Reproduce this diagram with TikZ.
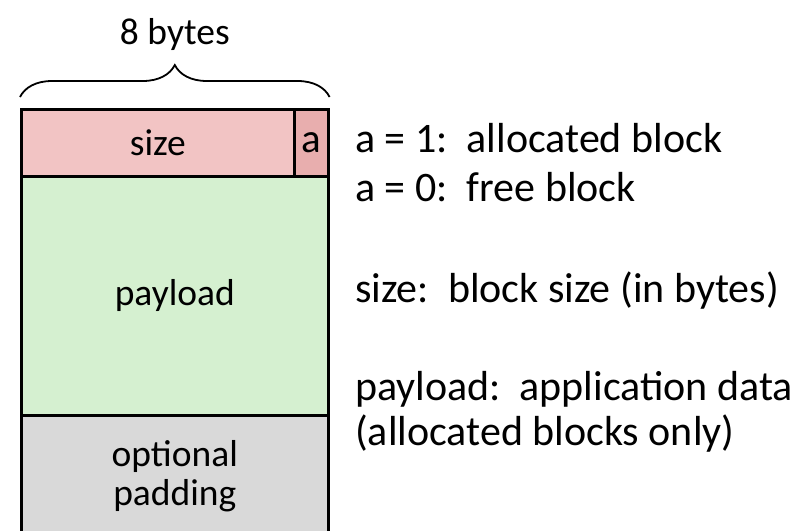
\documentclass[tikz,border=0pt]{standalone}
\usepackage{fontspec}
\setmainfont{Carlito}
\usetikzlibrary{positioning, decorations.pathreplacing}
\definecolor{sizefill}{HTML}{F2C4C4}
\definecolor{flagfill}{HTML}{E8AEAE}
\definecolor{loadfill}{HTML}{D5F0D0}
\definecolor{padfill}{HTML}{D9D9D9}

\begin{document}
\begin{tikzpicture}[x=1pt, y=-1pt,
    field/.style={draw=black, line width=2.6pt, inner sep=0pt, anchor=north west,
        font=\fontsize{37.5}{39}\selectfont, align=center},
    note/.style={anchor=base west, inner sep=0pt,
        font=\fontsize{42}{48}\selectfont}]
    \useasboundingbox (0,0) rectangle (799,530);

    % header word: size + allocated bit
    \node[field, fill=sizefill, minimum width=273pt, minimum height=67pt] (sizefield) at (20,108) {size};
    \node[field, fill=flagfill, minimum width=34pt, minimum height=67pt,
        font=\fontsize{41}{44}\selectfont] (aflag) at (293,108) {a};
    % body
    \node[field, fill=loadfill, minimum width=307pt, minimum height=239pt] (payload) at (20,175) {payload};
    \node[field, fill=padfill, minimum width=307pt, minimum height=122pt] (padding) at (20,414) {optional\\padding};

    \draw[decorate, decoration={brace, amplitude=32pt}, line width=1.8pt]
        ([yshift=11pt]sizefield.north west) -- ([yshift=11pt]aflag.north east)
        node[midway, above=46pt, font=\fontsize{37.5}{39}\selectfont, inner sep=0pt] (width) {8 bytes};

    \node[note] (aone) at (355,152) {a = 1:\ \ allocated block};
    \node[note] (azero) at (355,201) {a = 0:\ \ free block};
    \node[note] (sizenote) at (355,302) {size:\ \ block size (in bytes)};
    \node[note] (loadnote) at (355,400) {payload:\ \ application data};
    \node[note] (loadmore) at (355,445) {(allocated blocks only)};
\end{tikzpicture}
\end{document}
